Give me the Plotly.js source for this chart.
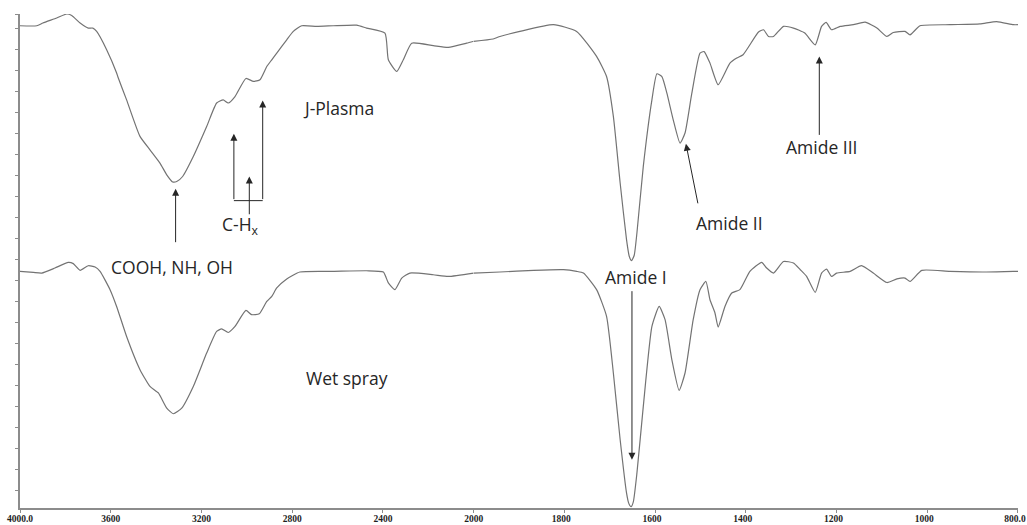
<!DOCTYPE html>
<html>
<head>
<meta charset="utf-8">
<script src="https://cdn.plot.ly/plotly-3.0.1.min.js"></script>
<style>html,body{margin:0;padding:0;background:#fff;}#chart{width:1027px;height:525px;}</style>
</head>
<body>
<div id="chart"></div>
<script>
// Wavenumber (cm-1) and relative transmittance (arbitrary units, one tick = 1)
var wnJPlasma = [4000,3926,3899,3838,3794,3772,3735,3699,3679,3662,3618,3574,3567,3530,3471,3427,3383,3353,3327,3309,3283,3236,3177,3133,3104,3082,3052,3004,2971,2942,2912,2890,2868,2824,2795,2758,2692,2619,2516,2472,2391,2376,2339,2310,2273,2178,2112,2031,2000,
  1957,1942,1898,1824,1773,1729,1707,1692,1677,1663,1657,1652,1646,1640,1626,1607,1596,1585,1574,1560,1545,1534,1519,1501,1492,1479,1461,1435,1420,1406,1372,1361,1350,1339,1317,1295,1270,1247,1233,1223,1211,1192,1163,1137,1111,1089,1075,1049,1038,1016,950,884,847,810,800];
var tJPlasma = [22.13,22.13,22.26,22.50,22.69,22.62,22.26,22.02,22.02,21.86,20.99,19.88,19.65,18.60,16.86,16.22,15.59,15.03,14.69,14.71,14.95,15.90,17.33,18.45,18.60,18.45,18.76,19.62,19.48,19.56,20.19,20.51,20.83,21.46,21.86,22.13,22.10,22.13,22.16,22.02,21.78,20.51,19.95,20.51,21.30,21.18,21.10,21.30,21.39,
  21.50,21.62,21.86,22.18,21.86,20.67,19.71,17.81,14.64,11.94,11.15,10.94,11.20,12.27,15.43,18.60,19.84,19.71,18.92,17.65,16.54,17.02,18.92,20.83,20.90,20.35,19.32,20.35,20.59,20.75,21.83,21.94,21.62,21.62,22.10,22.02,21.78,21.22,22.10,22.29,21.94,22.10,22.18,22.30,22.02,21.62,21.81,21.86,21.70,22.13,22.18,22.22,22.33,22.18,22.18];

var wnWetSpray = [4000,3941,3904,3846,3787,3765,3735,3699,3669,3647,3603,3574,3530,3471,3427,3390,3353,3324,3287,3236,3177,3133,3111,3082,3052,3004,2979,2945,2912,2890,2868,2824,2766,2619,2472,2398,2376,2347,2317,2281,2178,2112,2000,
  1942,1868,1802,1773,1758,1729,1707,1692,1677,1663,1658,1653,1648,1640,1626,1607,1591,1578,1563,1547,1534,1516,1501,1488,1479,1468,1461,1446,1431,1413,1391,1365,1354,1339,1317,1295,1280,1266,1247,1233,1222,1211,1200,1170,1145,1119,1089,1067,1049,1038,1012,950,876,810,800];
var tWetSpray = [10.43,10.38,10.35,10.59,10.86,10.80,10.48,10.70,10.64,10.43,9.56,8.76,7.33,5.75,4.95,4.64,3.92,3.65,3.92,4.95,6.54,7.57,7.69,7.52,7.81,8.57,8.37,8.41,9.00,9.24,9.64,10.07,10.40,10.43,10.46,10.40,9.88,9.56,10.11,10.35,10.27,10.19,10.35,
  10.40,10.48,10.51,10.43,10.35,9.56,8.29,5.59,2.41,-0.12,-0.62,-0.78,-0.55,0.83,4.00,7.81,8.76,8.13,6.22,4.76,5.59,8.13,9.56,9.95,9.08,8.45,7.78,8.76,9.40,9.56,10.43,10.86,10.59,10.35,10.90,10.83,10.51,10.19,9.43,10.35,10.54,10.19,10.35,10.43,10.70,10.35,9.90,10.07,10.11,9.95,10.48,10.43,10.40,10.43,10.43];

var tickValsHigh = [4000,3600,3200,2800,2400,2000];
var tickTextHigh = ['4000.0','3600','3200','2800','2400','2000'];
var tickValsLow = [1800,1600,1400,1200,1000,800];
var tickTextLow = ['1800','1600','1400','1200','1000','800.0'];

var lineColor = '#737373';
var inkColor = '#262626';

function part(wn, t, hi) {
  var xs = [], ys = [];
  for (var i = 0; i < wn.length; i++) {
    if ((hi && wn[i] >= 2000) || (!hi && wn[i] <= 2000)) { xs.push(wn[i]); ys.push(t[i]); }
  }
  return {x: xs, y: ys};
}
function trace(wn, t, hi, name) {
  var p = part(wn, t, hi);
  return {x: p.x, y: p.y, type: 'scatter', mode: 'lines', name: name,
    xaxis: hi ? 'x' : 'x2', yaxis: 'y', showlegend: false, hoverinfo: 'skip',
    line: {color: lineColor, width: 1.2, shape: 'spline', smoothing: 0.5}};
}

var data = [
  trace(wnJPlasma, tJPlasma, true, 'J-Plasma'),
  trace(wnJPlasma, tJPlasma, false, 'J-Plasma'),
  trace(wnWetSpray, tWetSpray, true, 'Wet spray'),
  trace(wnWetSpray, tWetSpray, false, 'Wet spray')
];

var yTicks = [];
for (var k = 0; k <= 22; k++) yTicks.push(k);
yTicks.push(22.69);

var txtFont = {family: 'Open Sans, sans-serif', size: 17.5, color: inkColor};
function label(xr, x, y, text) {
  return {xref: xr, yref: 'y', x: x, y: y, text: text, showarrow: false, font: txtFont, xanchor: 'center', yanchor: 'middle'};
}
function arrow(xr, x, y, ax, ay) {
  return {xref: xr, yref: 'y', axref: xr, ayref: 'y', x: x, y: y, ax: ax, ay: ay, text: '',
    showarrow: true, arrowhead: 2, arrowsize: 1.4, arrowwidth: 1, arrowcolor: inkColor, standoff: 0, startstandoff: 0};
}

var annotations = [
  label('x', 2594, 18.22, 'J-Plasma'),
  label('x', 3030, 12.60, 'C-H<sub>x</sub>'),
  label('x', 3330, 10.65, 'COOH, NH, OH'),
  label('x', 2558, 5.37, 'Wet spray'),
  label('x2', 1642, 10.18, 'Amide I'),
  label('x2', 1435, 12.75, 'Amide II'),
  label('x2', 1234, 16.37, 'Amide III'),
  arrow('x', 3314, 14.37, 3314, 11.75),
  arrow('x', 3057, 16.99, 3057, 13.80),
  arrow('x', 2930, 18.57, 2930, 13.80),
  arrow('x', 2989, 14.95, 2989, 13.08),
  arrow('x2', 1651, 1.46, 1651, 9.56),
  arrow('x2', 1532, 16.51, 1505, 13.60),
  arrow('x2', 1238, 20.67, 1238, 16.86)
];

var shapes = [
  {type: 'line', xref: 'x', yref: 'y', x0: 3057, x1: 2930, y0: 13.80, y1: 13.80, line: {color: inkColor, width: 1}}
];

var axisCommon = {showgrid: false, zeroline: false, showline: true, linecolor: '#8c8c8c', linewidth: 2,
  ticks: 'outside', ticklen: 3, tickwidth: 1, tickcolor: '#8c8c8c',
  tickfont: {family: 'Liberation Serif, serif', size: 9.5, color: '#1e1e1e', weight: 'bold'}, fixedrange: true};

var layout = {
  width: 1027, height: 525,
  margin: {l: 20, r: 9, t: 14, b: 17, pad: 0},
  paper_bgcolor: '#ffffff', plot_bgcolor: '#ffffff',
  showlegend: false,
  xaxis: Object.assign({}, axisCommon, {domain: [0, 5/11], range: [4000, 2000], anchor: 'y',
    tickmode: 'array', tickvals: tickValsHigh, ticktext: tickTextHigh, ticklabelstandoff: -2, ticklabeloverflow: 'allow'}),
  xaxis2: Object.assign({}, axisCommon, {domain: [5/11, 1], range: [2000, 800], anchor: 'y',
    tickmode: 'array', tickvals: tickValsLow, ticktext: tickTextLow, ticklabelstandoff: -2, ticklabelshift: 3, ticklabeloverflow: 'allow'}),
  yaxis: Object.assign({}, axisCommon, {range: [-0.84, 22.69], showticklabels: false,
    tickmode: 'array', tickvals: yTicks, anchor: 'x'}),
  annotations: annotations,
  shapes: shapes
};

Plotly.newPlot('chart', data, layout, {staticPlot: true, displayModeBar: false});
</script>
</body>
</html>
